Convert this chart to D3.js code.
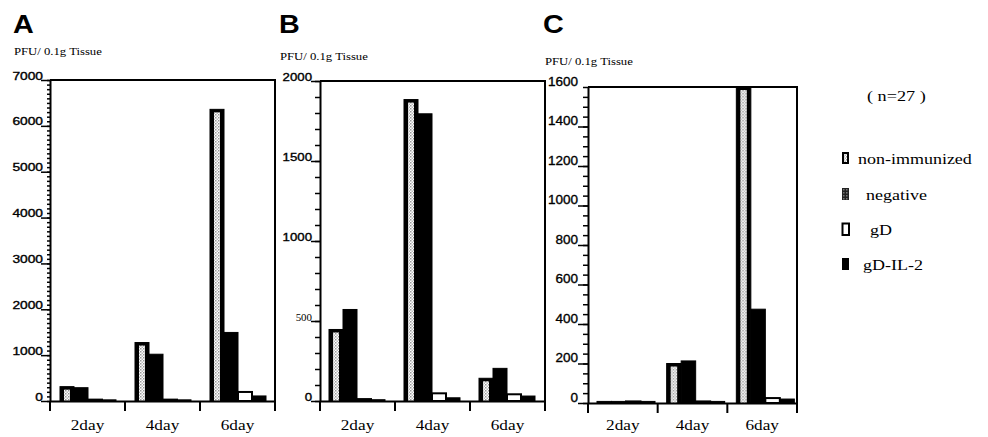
<!DOCTYPE html>
<html>
<head>
<meta charset="utf-8">
<script src="https://cdn.jsdelivr.net/npm/d3@7"></script>
<style>
  body { margin: 0; background: #fff; }
  svg { display: block; }
</style>
</head>
<body>
<script>
const days = ["2day", "4day", "6day"];
const groups = ["non-immunized", "negative", "gD", "gD-IL-2"];

// one row per day, values in the order of groups
const valuesA = [[313, 290, 30, 25], [1275, 1020, 30, 25], [6360, 1495, 197, 110]];
const valuesB = [[447, 572, 12, 8], [1884, 1795, 48, 20], [142, 204, 42, 31]];
const valuesC = [[8, 8, 8, 8], [200, 213, 8, 8], [1600, 475, 25, 20]];

const ticksA = [0, 1000, 2000, 3000, 4000, 5000, 6000, 7000];
const ticksB = [0, 500, 1000, 1500, 2000];
const ticksC = [0, 200, 400, 600, 800, 1000, 1200, 1400, 1600];

const yTitle = "PFU/ 0.1g Tissue";
const nLabel = "( n=27 )";

const width = 988, height = 437;
const serif = "'Liberation Serif', 'Times New Roman', serif";
const sans = "'Liberation Sans', Arial, sans-serif";

const svg = d3.select("body")
        .append("svg")
        .attr("width", width)
        .attr("height", height);

const defs = svg.append("defs");
const dots = defs.append("pattern")
        .attr("id", "dots")
        .attr("width", 3).attr("height", 3)
        .attr("patternUnits", "userSpaceOnUse");
dots.append("rect").attr("width", 3).attr("height", 3).attr("fill", "#fff");
dots.append("rect").attr("width", 1.5).attr("height", 1.5).attr("fill", "#999");
dots.append("rect").attr("x", 1.5).attr("y", 1.5).attr("width", 1.5).attr("height", 1.5).attr("fill", "#bbb");

const darkDots = defs.append("pattern")
        .attr("id", "darkdots")
        .attr("width", 3).attr("height", 3)
        .attr("patternUnits", "userSpaceOnUse");
darkDots.append("rect").attr("width", 3).attr("height", 3).attr("fill", "#222");
darkDots.append("rect").attr("width", 1.5).attr("height", 1.5).attr("fill", "#777");

// stretched text, like the scanned figure
function label(g, x, y, str, size, family, sx, anchor, weight) {
        return g.append("text")
                .attr("transform", `translate(${x},${y}) scale(${sx},1)`)
                .attr("text-anchor", anchor || "start")
                .attr("font-family", family)
                .attr("font-size", size)
                .attr("font-weight", weight || "normal")
                .attr("fill", "#000")
                .text(str);
}

const panels = [
        {letter: "A", values: valuesA, ticks: ticksA, max: 7000, minor: 100, minorLen: 3,
         x0: 50, x1: 275, y0: 80, y1: 401, letterX: 13, titleX: 14, titleY: 55,
         tickFont: 11, tickFamily: sans, tickSx: 1.25, tickDx: -7, tickDy: -1, barOff: 10, barW: 14},
        {letter: "B", values: valuesB, ticks: ticksB, max: 2000, minor: 100, minorLen: 5,
         x0: 320, x1: 545, y0: 81, y1: 401, letterX: 279, titleX: 280, titleY: 60,
         tickFont: 11.5, tickFamily: sans, tickSx: 1.15, tickDx: -8, tickDy: -1, barOff: 9, barW: 14},
        {letter: "C", values: valuesC, ticks: ticksC, max: 1600, minor: 50, minorLen: 5,
         x0: 588, x1: 797, y0: 87, y1: 403, letterX: 543, titleX: 545, titleY: 65,
         tickFont: 13.5, tickFamily: sans, tickSx: 1, tickDx: -10, tickDy: -2, barOff: 9, barW: 14.5}
];

panels.forEach(p => {
        const g = svg.append("g");

        const x = d3.scaleBand()
                .domain(days)
                .range([p.x0, p.x1]);

        const xs = d3.scaleBand()
                .domain(groups)
                .range([p.barOff, p.barOff + 4 * p.barW]);

        const y = d3.scaleLinear()
                .domain([0, p.max])
                .range([p.y1, p.y0])
                .clamp(true);

        // letter + y title
        label(g, p.letterX, 33, p.letter, 25, sans, 1.15, "start", "bold");
        label(g, p.titleX, p.titleY, yTitle, 10, serif, 1.27);

        // frame: top and right
        g.append("path")
                .attr("d", `M${p.x0},${p.y0}H${p.x1}V${p.y1}`)
                .attr("fill", "none")
                .attr("stroke", "#000")
                .attr("stroke-width", 2);

        // bars
        const day = g.selectAll(".day")
                .data(p.values)
                .enter()
                .append("g")
                .attr("transform", (d, i) => `translate(${x(days[i])},0)`);

        const bar = day.selectAll(".bar")
                .data(d => d.map((v, j) => ({group: groups[j], value: v})))
                .enter()
                .append("g");

        bar.append("rect")
                .attr("x", d => xs(d.group))
                .attr("y", d => y(d.value))
                .attr("width", xs.bandwidth())
                .attr("height", d => p.y1 - y(d.value))
                .attr("fill", d => d.group == "gD" ? "#fff" : "#000")
                .attr("stroke", "#000")
                .attr("stroke-width", d => d.group == "gD" ? 2 : 1);

        bar.filter(d => d.group == "non-immunized" && p.y1 - y(d.value) > 6)
                .append("rect")
                .attr("x", d => xs(d.group) + 4)
                .attr("y", d => y(d.value) + 3)
                .attr("width", xs.bandwidth() - 8)
                .attr("height", d => p.y1 - y(d.value) - 3)
                .attr("fill", "url(#dots)");

        // minor ticks
        g.append("g")
                .attr("transform", `translate(${p.x0},0)`)
                .call(d3.axisLeft(y)
                        .tickValues(d3.range(0, p.max + 1, p.minor))
                        .tickSizeInner(p.minorLen)
                        .tickSizeOuter(0)
                        .tickFormat(""))
                .call(a => a.select(".domain").remove())
                .call(a => a.selectAll("line").attr("stroke-width", 1.5).attr("x2", -p.minorLen).attr("x1", 1));

        // major ticks + labels
        const yAxis = g.append("g")
                .attr("transform", `translate(${p.x0},0)`)
                .call(d3.axisLeft(y)
                        .tickValues(p.ticks)
                        .tickSizeInner(p.letter == "C" ? 10 : 9)
                        .tickSizeOuter(0)
                        .tickFormat(d3.format("d")));

        yAxis.select(".domain").attr("stroke-width", 2);
        yAxis.selectAll("line").attr("stroke-width", 1.5);
        yAxis.selectAll(".tick")
                .filter(d => p.letter == "C" && d == p.max)
                .select("line").remove();
        yAxis.selectAll("text")
                .attr("x", null)
                .attr("dy", null)
                .attr("transform", `translate(${p.tickDx},${p.tickDy}) scale(${p.tickSx},1)`)
                .attr("font-family", p.tickFamily)
                .attr("font-size", d => (p.letter == "B" && d == 500) ? 9.5 : p.tickFont)
                .attr("text-anchor", "end")
                .attr("fill", "#000")
                .attr("stroke", "#000")
                .attr("stroke-width", 0.35);
        yAxis.selectAll("text")
                .filter(d => p.letter == "B" && d == 500)
                .attr("font-family", serif)
                .attr("stroke-width", 0);

        // x axis line + category labels
        const xAxis = g.append("g")
                .attr("transform", `translate(0,${p.y1})`)
                .call(d3.axisBottom(x).tickSize(0).tickSizeOuter(0));
        xAxis.select(".domain").attr("stroke-width", 2);
        xAxis.selectAll("text")
                .attr("y", null)
                .attr("dy", null)
                .attr("transform", `translate(0,${430 - p.y1}) scale(1.15,1)`)
                .attr("font-family", serif)
                .attr("font-size", 15)
                .attr("fill", "#000");

        // boundary ticks between categories
        const bounds = days.map(d => x(d)).concat([x.range()[1]]);
        g.selectAll(".bound")
                .data(bounds)
                .enter()
                .append("line")
                .attr("x1", d => d).attr("x2", d => d)
                .attr("y1", p.y1).attr("y2", p.y1 + 10)
                .attr("stroke", "#000")
                .attr("stroke-width", 2);
});

// legend
const legend = svg.append("g");
label(legend, 867, 101, nLabel, 14, serif, 1.3);

const legendRows = [
        {group: groups[0], sy: 152, ty: 164, tx: 858},
        {group: groups[1], sy: 188, ty: 200, tx: 866},
        {group: groups[2], sy: 223, ty: 235, tx: 870},
        {group: groups[3], sy: 258, ty: 270, tx: 863}
];

legendRows.forEach(r => {
        if (r.group == "non-immunized") {
                legend.append("rect").attr("x", 842).attr("y", r.sy).attr("width", 7).attr("height", 12).attr("fill", "#000");
                legend.append("rect").attr("x", 844).attr("y", r.sy + 2).attr("width", 3).attr("height", 8).attr("fill", "url(#dots)");
        } else if (r.group == "negative") {
                legend.append("rect").attr("x", 842).attr("y", r.sy).attr("width", 7).attr("height", 12).attr("fill", "url(#darkdots)");
        } else if (r.group == "gD") {
                legend.append("rect").attr("x", 842.5).attr("y", r.sy + 0.5).attr("width", 6.5).attr("height", 11.5)
                        .attr("fill", "#fff").attr("stroke", "#000").attr("stroke-width", 2);
        } else {
                legend.append("rect").attr("x", 842).attr("y", r.sy).attr("width", 7).attr("height", 12).attr("fill", "#000");
        }
        label(legend, r.tx, r.ty, r.group, 15, serif, 1.2);
});
</script>
</body>
</html>
